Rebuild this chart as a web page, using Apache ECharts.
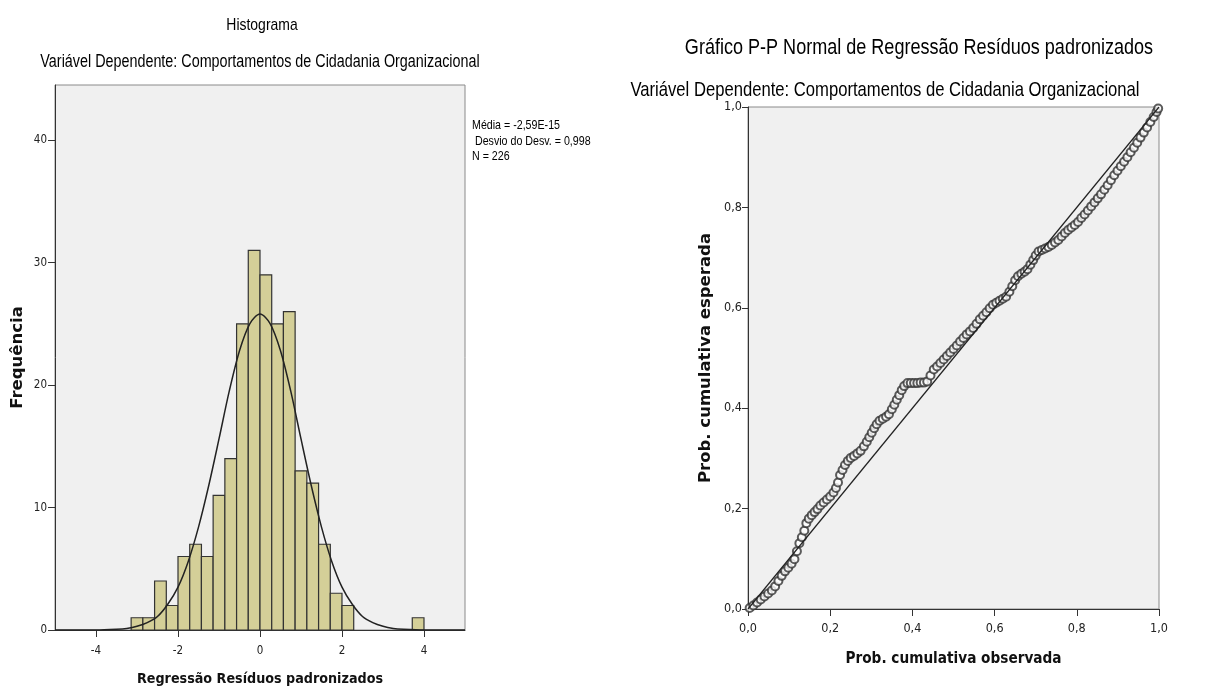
<!DOCTYPE html>
<html>
<head>
<meta charset="utf-8">
<script src="https://cdn.jsdelivr.net/npm/echarts@6/dist/echarts.min.js"></script>
<style>
  html, body { margin: 0; background: #fff; }
  #main { width: 1213px; height: 694px; }
</style>
</head>
<body>
<div id="main"></div>
<script>
// histograma: limite esquerdo de cada classe e frequência
const binLeft = [-3.143, -2.857, -2.571, -2.286, -2.0, -1.714, -1.429, -1.143, -0.857, -0.571,
  -0.286, 0, 0.286, 0.571, 0.857, 1.143, 1.429, 1.714, 2.0, 3.714]
const binWidth = 0.2857
const freq = [1, 1, 4, 2, 6, 7, 6, 11, 14, 25, 31, 29, 25, 26, 13, 12, 7, 3, 2, 1]

// curva normal
const curveX = [-5, -4, -3.5, -3.25, -3, -2.75, -2.5, -2.25, -2, -1.75, -1.5, -1.25, -1, -0.75, -0.5, -0.25,
  0, 0.25, 0.5, 0.75, 1, 1.25, 1.5, 1.75, 2, 2.25, 2.5, 2.75, 3, 3.25, 3.5, 4, 5]
const curveY = [0, 0, 0.06, 0.13, 0.3, 0.6, 1.1, 2.1, 3.5, 5.6, 8.4, 11.8, 15.6, 19.5, 22.8, 25.0,
  25.8, 25.0, 22.8, 19.5, 15.6, 11.8, 8.4, 5.6, 3.5, 2.1, 1.1, 0.6, 0.3, 0.13, 0.06, 0, 0]

const histXTicks = [-4, -2, 0, 2, 4]
const histYTicks = [0, 10, 20, 30, 40]
const histStats = ['Média = -2,59E-15', ' Desvio do Desv. = 0,998', 'N = 226']

// gráfico P-P
const ppObserved = [0.004, 0.013, 0.022, 0.031, 0.040, 0.049, 0.058, 0.066, 0.074, 0.082, 0.090, 0.098,
  0.106, 0.113, 0.119, 0.125, 0.131, 0.137, 0.142, 0.148, 0.155, 0.162, 0.169, 0.176, 0.184, 0.192,
  0.200, 0.208, 0.214, 0.219, 0.224, 0.230, 0.236, 0.243, 0.250, 0.258, 0.266, 0.274, 0.282, 0.289,
  0.295, 0.301, 0.307, 0.313, 0.320, 0.328, 0.336, 0.343, 0.350, 0.356, 0.362, 0.368, 0.374, 0.380,
  0.388, 0.396, 0.404, 0.412, 0.420, 0.428, 0.436, 0.444, 0.452, 0.460, 0.468, 0.476, 0.484, 0.492,
  0.500, 0.508, 0.516, 0.524, 0.532, 0.540, 0.548, 0.556, 0.564, 0.572, 0.580, 0.588, 0.596, 0.604,
  0.612, 0.620, 0.628, 0.636, 0.643, 0.650, 0.657, 0.665, 0.673, 0.680, 0.687, 0.694, 0.700, 0.707,
  0.715, 0.723, 0.731, 0.739, 0.747, 0.755, 0.763, 0.771, 0.779, 0.787, 0.795, 0.803, 0.811, 0.819,
  0.827, 0.835, 0.843, 0.851, 0.859, 0.867, 0.875, 0.883, 0.891, 0.899, 0.907, 0.915, 0.923, 0.931,
  0.939, 0.947, 0.955, 0.963, 0.971, 0.979, 0.987, 0.994, 0.998]
const ppExpected = [0.002, 0.007, 0.013, 0.019, 0.025, 0.031, 0.037, 0.045, 0.056, 0.066, 0.075, 0.082,
  0.090, 0.099, 0.115, 0.131, 0.143, 0.156, 0.171, 0.180, 0.187, 0.193, 0.199, 0.206, 0.212, 0.218,
  0.224, 0.232, 0.241, 0.252, 0.267, 0.277, 0.287, 0.295, 0.301, 0.305, 0.310, 0.315, 0.324, 0.333,
  0.342, 0.351, 0.360, 0.368, 0.375, 0.379, 0.383, 0.388, 0.398, 0.407, 0.417, 0.426, 0.436, 0.444,
  0.450, 0.450, 0.450, 0.450, 0.451, 0.451, 0.453, 0.465, 0.477, 0.483, 0.490, 0.497, 0.504, 0.511,
  0.518, 0.525, 0.533, 0.540, 0.547, 0.553, 0.560, 0.568, 0.577, 0.584, 0.591, 0.599, 0.606, 0.610,
  0.614, 0.618, 0.622, 0.632, 0.643, 0.655, 0.663, 0.668, 0.672, 0.677, 0.686, 0.695, 0.704, 0.712,
  0.715, 0.718, 0.721, 0.725, 0.730, 0.735, 0.742, 0.749, 0.755, 0.760, 0.765, 0.771, 0.779, 0.786,
  0.794, 0.802, 0.810, 0.818, 0.826, 0.835, 0.844, 0.854, 0.864, 0.873, 0.882, 0.891, 0.900, 0.910,
  0.919, 0.929, 0.939, 0.949, 0.959, 0.970, 0.980, 0.990, 0.997]

const arial = "'Liberation Sans', Arial, sans-serif"
const cond = "'DejaVu Sans Condensed', 'DejaVu Sans', sans-serif"
const wide = "'DejaVu Sans', 'Liberation Sans', sans-serif"

const histData = binLeft.map((x, i) => [x, x + binWidth, freq[i]])
const curveData = curveX.map((x, i) => [x, curveY[i]])
const ppData = ppObserved.map((x, i) => [x, ppExpected[i]])

const comma = v => v.toFixed(1).replace('.', ',')

// texto estreito (tipo Arial Narrow): Liberation Sans comprimida na horizontal
const narrowText = (text, x, y, size, align) => ({
  type: 'text', x: x, y: y, scaleX: 0.82, silent: true,
  style: { text: text, font: size + 'px ' + arial, fill: '#000', align: align || 'center', verticalAlign: 'middle' }
})

const axisCommon = {
  axisLine: { onZero: false, lineStyle: { color: '#333' } },
  splitLine: { show: false }
}

const chart = echarts.init(document.getElementById('main'))
chart.setOption({
  backgroundColor: '#fff',
  animation: false,
  graphic: [
    narrowText('Histograma', 262, 25, 17),
    narrowText('Variável Dependente: Comportamentos de Cidadania Organizacional', 260, 62, 17.5),
    narrowText(histStats[0], 472, 125, 13, 'left'),
    narrowText(histStats[1], 472, 141, 13, 'left'),
    narrowText(histStats[2], 472, 156, 13, 'left'),
    narrowText('Gráfico P-P Normal de Regressão Resíduos padronizados', 919, 48, 22),
    narrowText('Variável Dependente: Comportamentos de Cidadania Organizacional', 885, 90, 20.3)
  ],
  grid: [
    { left: 55, top: 85, width: 410, height: 545, show: true, backgroundColor: '#f0f0f0',
      borderColor: '#8a8a8a', borderWidth: 1 },
    { left: 748, top: 107, width: 411, height: 502, show: true, backgroundColor: '#f0f0f0',
      borderColor: '#8a8a8a', borderWidth: 1 }
  ],
  xAxis: [
    { ...axisCommon, type: 'value', gridIndex: 0, min: -5, max: 5,
      name: 'Regressão Resíduos padronizados', nameLocation: 'middle', nameGap: 42,
      nameTextStyle: { fontFamily: cond, fontSize: 14.2, fontWeight: 'bold', color: '#111' },
      axisTick: { show: true, length: 7, lineStyle: { color: '#333' }, customValues: histXTicks },
      axisLabel: { color: '#222', fontFamily: cond, fontSize: 11.5, margin: 15, customValues: histXTicks } },
    { ...axisCommon, type: 'value', gridIndex: 1, min: 0, max: 1, interval: 0.2,
      name: 'Prob. cumulativa observada', nameLocation: 'middle', nameGap: 43,
      nameTextStyle: { fontFamily: cond, fontSize: 15.2, fontWeight: 'bold', color: '#111' },
      axisTick: { length: 7, lineStyle: { color: '#333' } },
      axisLabel: { color: '#222', fontFamily: cond, fontSize: 12.5, margin: 13, formatter: comma } }
  ],
  yAxis: [
    { ...axisCommon, type: 'value', gridIndex: 0, min: 0, max: 44.5,
      name: 'Frequência', nameLocation: 'middle', nameGap: 29,
      nameTextStyle: { fontFamily: wide, fontSize: 16.5, fontWeight: 'bold', color: '#111' },
      axisTick: { show: true, length: 7, lineStyle: { color: '#333' }, customValues: histYTicks },
      axisLabel: { color: '#222', fontFamily: cond, fontSize: 11.5, margin: 8, customValues: histYTicks } },
    { ...axisCommon, type: 'value', gridIndex: 1, min: 0, max: 1, interval: 0.2,
      name: 'Prob. cumulativa esperada', nameLocation: 'middle', nameGap: 34,
      nameTextStyle: { fontFamily: wide, fontSize: 16.5, fontWeight: 'bold', color: '#111' },
      axisTick: { length: 6, lineStyle: { color: '#333' } },
      axisLabel: { color: '#222', fontFamily: cond, fontSize: 12.5, margin: 6, formatter: comma } }
  ],
  series: [
    {
      type: 'custom', xAxisIndex: 0, yAxisIndex: 0, data: histData,
      encode: { x: [0, 1], y: 2 },
      renderItem: (params, api) => {
        const p0 = api.coord([api.value(0), api.value(2)])
        const p1 = api.coord([api.value(1), 0])
        return {
          type: 'rect',
          shape: { x: p0[0], y: p0[1], width: p1[0] - p0[0], height: p1[1] - p0[1] },
          style: { fill: '#d4cf98', stroke: '#333', lineWidth: 1.2 }
        }
      }
    },
    {
      type: 'line', xAxisIndex: 0, yAxisIndex: 0, data: curveData, smooth: 0.3,
      showSymbol: false, lineStyle: { color: '#222', width: 1.5 }, z: 5
    },
    {
      type: 'line', xAxisIndex: 1, yAxisIndex: 1, data: [[0, 0], [1, 1]],
      showSymbol: false, lineStyle: { color: '#222', width: 1.2 }
    },
    {
      type: 'scatter', xAxisIndex: 1, yAxisIndex: 1, data: ppData,
      symbol: 'emptyCircle', symbolSize: 8,
      itemStyle: { color: '#333', borderColor: '#333', borderWidth: 1.3 }
    }
  ]
})
</script>
</body>
</html>
